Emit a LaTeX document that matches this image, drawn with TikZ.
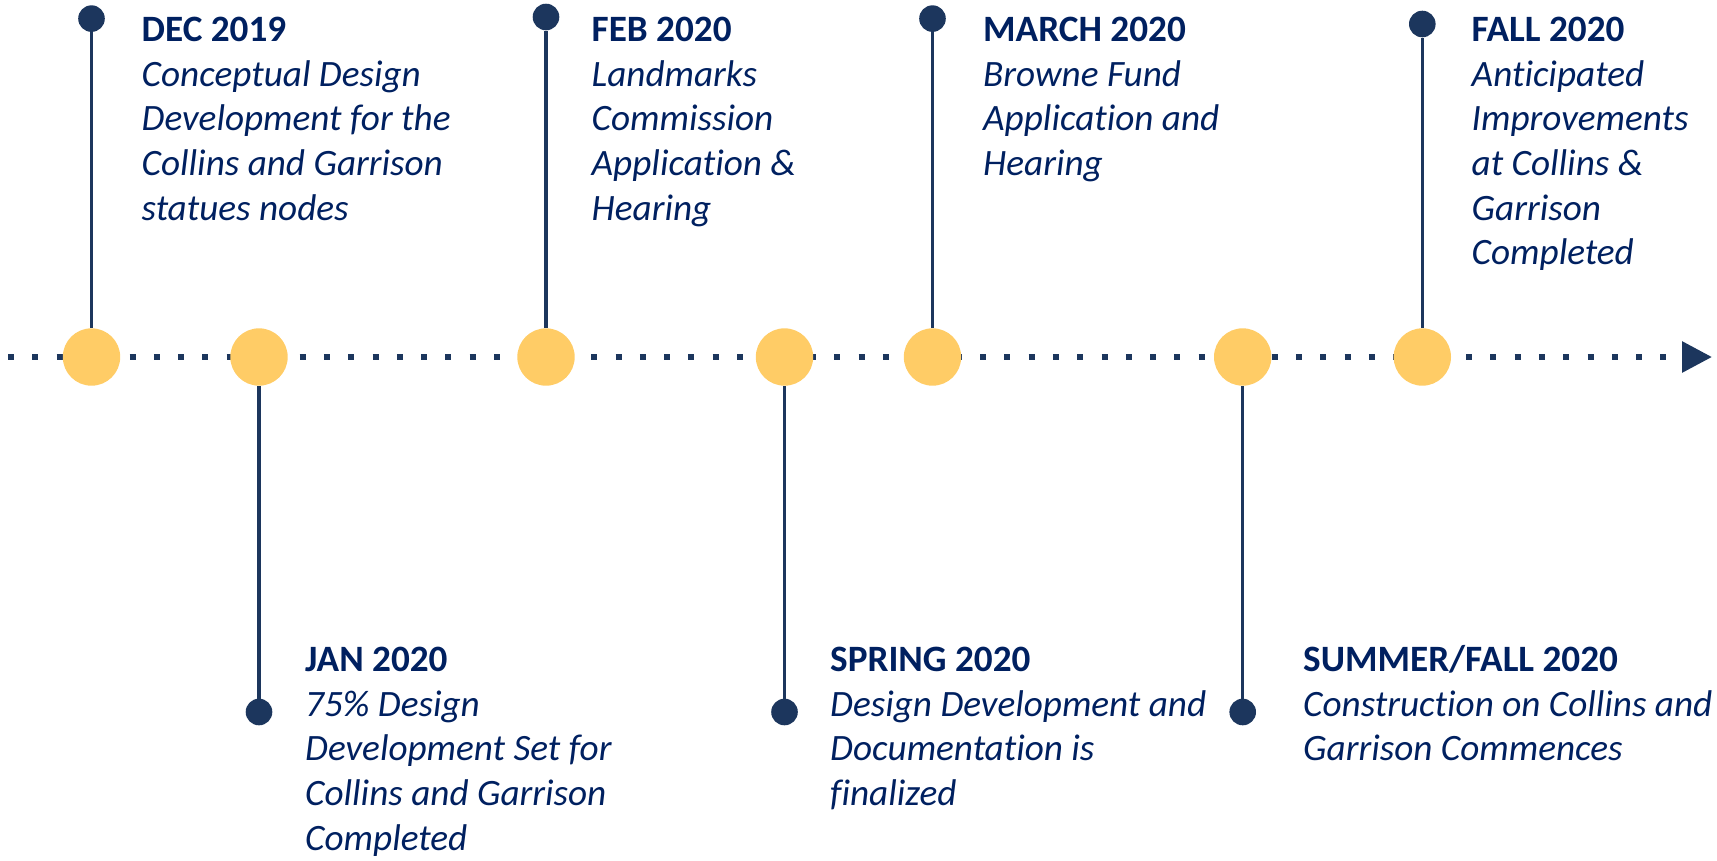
\documentclass[tikz,border=0pt]{standalone}
\usepackage{fontspec}
\setmainfont{Carlito}[Ligatures=NoCommon]
\usetikzlibrary{arrows.meta}
\definecolor{navytext}{RGB}{0,32,96}
\definecolor{navyline}{RGB}{28,54,93}
\definecolor{gold}{RGB}{255,204,102}
\tikzset{
  axisline/.style={navyline, line width=6pt, dash pattern=on 6pt off 18.3pt, -{Triangle[length=30pt,width=30pt]}},
  bigdot/.style={circle, fill=gold, minimum size=57.4pt, inner sep=0pt},
  enddot/.style={circle, fill=navyline, minimum size=26.6pt, inner sep=0pt},
  stemline/.style={navyline, line width=3.3pt},
  lab/.style={anchor=base west, inner sep=0pt, align=left, text=navytext, font=\fontsize{37.2}{44.6}\selectfont},
}
\begin{document}
\begin{tikzpicture}[x=1pt,y=-1pt]
\useasboundingbox (0,0) rectangle (1717,860);
\coordinate (start) at (8,357);
\coordinate (tip) at (1712,357);
\draw[axisline] (start) -- (tip);
% circles on the axis
\node[bigdot] (c1) at (91.5,357) {};
\node[bigdot] (c2) at (259,357) {};
\node[bigdot] (c3) at (546,357) {};
\node[bigdot] (c4) at (784.5,357) {};
\node[bigdot] (c5) at (932.5,357) {};
\node[bigdot] (c6) at (1242.7,357) {};
\node[bigdot] (c7) at (1422.3,357) {};
% end dots
\node[enddot] (d1) at (91.5,18.6) {};
\node[enddot] (d2) at (259,712) {};
\node[enddot] (d3) at (546,17) {};
\node[enddot] (d4) at (784.5,712) {};
\node[enddot] (d5) at (932.5,18.6) {};
\node[enddot] (d6) at (1242.7,712) {};
\node[enddot] (d7) at (1422.3,24) {};
% stems
\foreach \i in {1,...,7} { \draw[stemline] (d\i) -- (c\i); }
% labels (anchored at the baseline of their last line)
\node[lab] (t1) at (141.5,220.1) {\textbf{DEC 2019}\\\textit{Conceptual Design}\\\textit{Development for the}\\\textit{Collins and Garrison}\\\textit{statues nodes}};
\node[lab] (t2) at (305,850.1) {\textbf{JAN 2020}\\\textit{75\% Design}\\\textit{Development Set for}\\\textit{Collins and Garrison}\\\textit{Completed}};
\node[lab] (t3) at (591.5,220.1) {\textbf{FEB 2020}\\\textit{Landmarks}\\\textit{Commission}\\\textit{Application \&}\\\textit{Hearing}};
\node[lab] (t4) at (830,805.5) {\textbf{SPRING 2020}\\\textit{Design Development and}\\\textit{Documentation is}\\\textit{finalized}};
\node[lab] (t5) at (983,175.5) {\textbf{MARCH 2020}\\\textit{Browne Fund}\\\textit{Application and}\\\textit{Hearing}};
\node[lab] (t6) at (1303,760.9) {\textbf{SUMMER/FALL 2020}\\\textit{Construction on Collins and}\\\textit{Garrison Commences}};
\node[lab] (t7) at (1471.5,264.7) {\textbf{FALL 2020}\\\textit{Anticipated}\\\textit{Improvements}\\\textit{at Collins \&}\\\textit{Garrison}\\\textit{Completed}};
\end{tikzpicture}
\end{document}
